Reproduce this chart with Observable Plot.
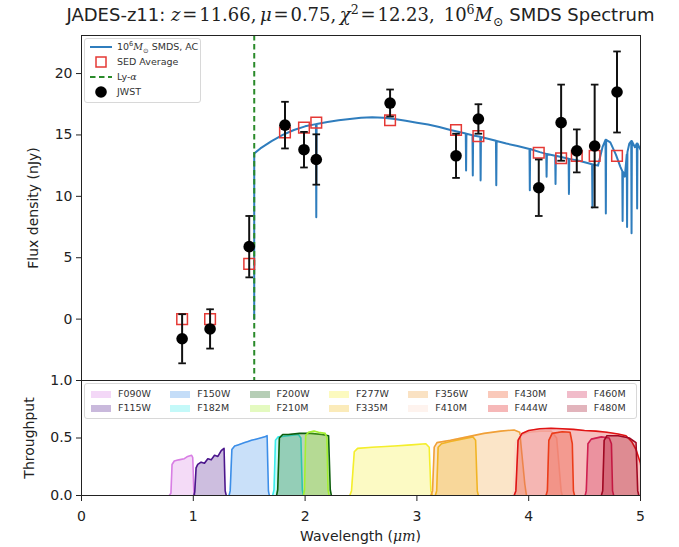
<!DOCTYPE html>
<html><head><meta charset="utf-8">
<script src="https://cdn.jsdelivr.net/npm/d3@7"></script>
<script src="https://cdn.jsdelivr.net/npm/@observablehq/plot@0.6"></script>
<style>
body{margin:0;background:#fff;}
#wrap{position:relative;width:679px;height:547px;font-family:"DejaVu Sans",sans-serif;color:#222;overflow:hidden;}
#topP,#botP{position:absolute;left:0;}
#topP{top:0}
#botP{top:379px}
svg{background:transparent !important;}
.title{position:absolute;top:5px;left:0;width:721px;text-align:center;font-size:18px;white-space:nowrap;line-height:20px;}
.m{font-family:"DejaVu Serif","Liberation Serif",serif;}
.title sup,.leg1 sup{font-size:0.7em;line-height:0;}
.title sub,.leg1 sub{font-size:0.7em;line-height:0;}
.xlab{position:absolute;top:528px;left:0;width:721px;text-align:center;font-size:14px;}
.leg1{position:absolute;left:84px;top:38px;width:115px;height:63px;border:1px solid #d8d8d8;border-radius:3px;background:rgba(255,255,255,0.85);font-size:9.5px;color:#333;}
.leg1 .row{position:absolute;left:0;height:14px;line-height:14px;}
.leg1 .row span{position:absolute;left:32px;white-space:nowrap;}
.leg1 svg{position:absolute;left:5px;top:0;}
.leg2{position:absolute;left:84px;top:383px;width:551px;height:34px;border:1px solid #d8d8d8;border-radius:3px;background:rgba(255,255,255,0.85);font-size:9.5px;color:#333;}
.leg2 .it{position:absolute;height:12px;line-height:12px;white-space:nowrap;}
.leg2 .sw{position:absolute;left:0;top:2.5px;width:20px;height:7px;}
.leg2 .tx{position:absolute;left:27px;top:0;}
</style></head>
<body>
<div id="wrap">
  <div id="topP"></div>
  <div id="botP"></div>
  <div class="title">JADES-z11: <span class="m"><i>z</i>&#8202;=&#8202;11.66,&#8201;<i>μ</i>&#8202;=&#8202;0.75,&#8201;<i>χ</i><sup>2</sup>&#8202;=&#8202;12.23,&#8194;10<sup>6</sup><i>M</i><sub>⊙</sub></span> SMDS Spectrum</div>
  <div class="xlab">Wavelength (<i class="m">μm</i>)</div>
  <div class="leg1" id="leg1"></div>
  <div class="leg2" id="leg2"></div>
</div>
<script>
// ---------- data ----------
const filterNames = ["F090W","F115W","F150W","F182M","F200W","F210M","F277W","F335M","F356W","F410M","F430M","F444W","F460M","F480M"];
const jwstWave = [0.90, 1.15, 1.50, 1.82, 1.99, 2.10, 2.76, 3.35, 3.55, 4.09, 4.29, 4.43, 4.59, 4.79];
const jwstFlux = [-1.6, -0.8, 5.9, 15.8, 13.8, 13.0, 17.6, 13.3, 16.3, 10.7, 16.0, 13.7, 14.1, 18.5];
const jwstErr  = [2.0, 1.6, 2.5, 1.9, 1.45, 2.05, 1.1, 1.8, 1.2, 2.3, 3.1, 1.75, 5.0, 3.3];
const sedFlux  = [0.0, 0.0, 4.5, 15.2, 15.6, 16.0, 16.2, 15.4, 14.9, 13.55, 13.1, 13.3, 13.3, 13.3];
const lyaWave = 1.545;

const modelWave = [1.5449,1.545,1.60,1.70,1.80,1.90,2.00,2.097,2.10,2.103,2.20,2.30,2.40,2.50,2.60,2.70,2.80,2.90,3.00,3.10,3.20,3.30,
  3.437,3.44,3.443,3.497,3.50,3.503,3.567,3.57,3.573,3.707,3.71,3.713,3.80,3.90,4.007,4.01,4.013,4.10,4.157,4.16,4.163,
  4.237,4.24,4.243,4.357,4.36,4.363,4.45,4.567,4.57,4.573,4.62,4.66,4.687,4.69,4.693,4.73,4.78,4.82,4.837,4.84,4.843,4.86,
  4.877,4.88,4.883,4.90,4.917,4.92,4.923,4.95,4.967,4.97,4.973,5.00];
const modelFlux = [0,13.5,13.9,14.5,15.0,15.4,15.7,15.88,8.3,15.9,16.05,16.2,16.3,16.4,16.45,16.4,16.3,16.15,16.0,15.85,15.65,15.4,
  15.12,12.1,15.1,14.98,11.7,14.96,14.85,11.3,14.84,14.52,10.9,14.5,14.3,14.1,13.86,10.5,13.85,13.6,13.46,11.6,13.45,
  13.31,11.0,13.3,13.06,10.2,13.05,12.9,12.61,9.1,12.6,12.5,14.0,14.6,8.6,14.6,14.4,13.4,12.4,12.05,8.0,12.0,11.6,
  13.4,7.5,13.6,14.3,14.5,7.0,14.5,14.0,14.3,9.0,14.3,13.8];

// filter throughput curves [wavelength, throughput]
const tF090W = [[0.785,0],[0.80,0.02],[0.81,0.27],[0.83,0.30],[0.87,0.31],[0.92,0.32],[0.95,0.34],[0.985,0.35],[0.995,0.33],[1.005,0.03],[1.015,0]];
const tF115W = [[1.005,0],[1.013,0.03],[1.025,0.24],[1.04,0.27],[1.07,0.29],[1.10,0.28],[1.13,0.32],[1.16,0.31],[1.19,0.35],[1.22,0.34],[1.25,0.39],[1.275,0.41],[1.285,0.04],[1.295,0]];
const tF150W = [[1.32,0],[1.33,0.04],[1.345,0.40],[1.37,0.43],[1.40,0.44],[1.43,0.45],[1.46,0.46],[1.49,0.47],[1.52,0.48],[1.56,0.49],[1.60,0.50],[1.64,0.51],[1.66,0.52],[1.672,0.04],[1.68,0]];
const tF182M = [[1.71,0],[1.722,0.05],[1.735,0.48],[1.76,0.51],[1.85,0.52],[1.94,0.53],[1.962,0.50],[1.975,0.05],[1.985,0]];
const tF200W = [[1.745,0],[1.755,0.05],[1.77,0.50],[1.80,0.53],[1.85,0.53],[1.95,0.54],[2.05,0.54],[2.15,0.53],[2.21,0.52],[2.225,0.05],[2.235,0]];
const tF210M = [[1.985,0],[1.995,0.05],[2.005,0.52],[2.03,0.55],[2.08,0.56],[2.12,0.55],[2.18,0.54],[2.195,0.50],[2.205,0.05],[2.215,0]];
const tF277W = [[2.40,0],[2.415,0.04],[2.44,0.38],[2.47,0.41],[2.60,0.42],[2.80,0.43],[2.95,0.44],[3.08,0.45],[3.11,0.42],[3.125,0.04],[3.14,0]];
const tF335M = [[3.165,0],[3.177,0.04],[3.19,0.42],[3.22,0.45],[3.30,0.47],[3.40,0.49],[3.50,0.51],[3.525,0.48],[3.54,0.04],[3.55,0]];
const tF356W = [[3.125,0],[3.14,0.04],[3.155,0.42],[3.18,0.46],[3.30,0.48],[3.45,0.51],[3.60,0.54],[3.75,0.56],[3.87,0.57],[3.92,0.55],[3.965,0.10],[3.98,0]];
const tF410M = [[3.855,0],[3.866,0.04],[3.88,0.45],[3.92,0.52],[4.00,0.55],[4.10,0.56],[4.20,0.56],[4.25,0.50],[4.29,0.04],[4.30,0]];
const tF430M = [[4.155,0],[4.167,0.04],[4.18,0.48],[4.21,0.54],[4.30,0.555],[4.37,0.55],[4.39,0.45],[4.40,0.04],[4.41,0]];
const tF444W = [[3.87,0],[3.885,0.04],[3.905,0.48],[3.94,0.54],[4.00,0.565],[4.10,0.58],[4.20,0.585],[4.30,0.58],[4.40,0.575],[4.50,0.565],[4.60,0.56],[4.70,0.55],[4.80,0.535],[4.87,0.52],[4.92,0.47],[4.96,0.40],[5.00,0.28],[5.03,0.04],[5.05,0]];
const tF460M = [[4.505,0],[4.515,0.04],[4.53,0.45],[4.56,0.49],[4.65,0.51],[4.72,0.50],[4.74,0.45],[4.75,0.04],[4.76,0]];
const tF480M = [[4.65,0],[4.662,0.04],[4.675,0.48],[4.70,0.52],[4.80,0.52],[4.90,0.50],[4.96,0.46],[4.975,0.04],[4.985,0]];
const filterCurves = [tF090W,tF115W,tF150W,tF182M,tF200W,tF210M,tF277W,tF335M,tF356W,tF410M,tF430M,tF444W,tF460M,tF480M];

// ---------- styles ----------
const filterColors = ["#d87ee4","#4b168c","#3c8ee8","#3cecec","#0c5e0c","#a4f030","#f4ee2c","#f2bc1c","#f0a038","#fcd8c8","#f04c1c","#e01414","#d02050","#a00822"];
const blue = "#2f7dbd", red = "#e53935", green = "#2a8a2a";

const jw = jwstWave.map((x,i)=>({x, y: jwstFlux[i], e: jwstErr[i]}));
const sed = jwstWave.map((x,i)=>({x, y: sedFlux[i]}));
const model = modelWave.map((x,i)=>({x, y: modelFlux[i]}));
const cap = {draw(ctx){ ctx.moveTo(-3.8,0); ctx.lineTo(3.8,0); }};

const common = {fontFamily:"DejaVu Sans", fontSize:"14px", color:"#222", background:"transparent", overflow:"visible"};

const topPlot = Plot.plot({
  width: 679, height: 381,
  marginLeft: 81, marginRight: 39, marginTop: 35, marginBottom: 1,
  style: common,
  x: {domain:[0,5], axis: null},
  y: {domain:[-5,23.1]},
  marks: [
    Plot.line(model, {x:"x", y:"y", stroke: blue, strokeWidth: 2, clip: true}),
    Plot.ruleX([lyaWave], {stroke: green, strokeWidth: 2, strokeDasharray: "5.5,3.5"}),
    Plot.dot(sed, {x:"x", y:"y", symbol:"square", r:6, stroke: red, strokeWidth:1.5, fill:"none"}),
    Plot.ruleX(jw, {x:"x", y1: d=>d.y-d.e, y2: d=>d.y+d.e, stroke:"#111", strokeWidth:2}),
    Plot.dot(jw, {x:"x", y: d=>d.y-d.e, symbol: cap, stroke:"#111", strokeWidth:1.8}),
    Plot.dot(jw, {x:"x", y: d=>d.y+d.e, symbol: cap, stroke:"#111", strokeWidth:1.8}),
    Plot.dot(jw, {x:"x", y:"y", r:5.8, fill:"#000"}),
    Plot.axisY({ticks:[0,5,10,15,20], tickSize:5, tickPadding:4, label:"Flux density (nJy)", labelAnchor:"center", labelArrow:"none", labelOffset:53}),
    Plot.frame({stroke:"#222"})
  ]
});
document.getElementById("topP").appendChild(topPlot);

const bmarks = [];
filterCurves.forEach((c,i)=>{
  bmarks.push(Plot.areaY(c, {x: d=>d[0], y: d=>d[1], fill: filterColors[i], fillOpacity: 0.28, clip: true}));
  bmarks.push(Plot.line(c, {x: d=>d[0], y: d=>d[1], stroke: filterColors[i], strokeWidth: 1.6, clip: true}));
});
const botPlot = Plot.plot({
  width: 679, height: 168,
  marginLeft: 81, marginRight: 39, marginTop: 1, marginBottom: 52,
  style: common,
  x: {domain:[0,5]},
  y: {domain:[0,1]},
  marks: [
    ...bmarks,
    Plot.axisX({ticks:[0,1,2,3,4,5], tickFormat: d3.format("d"), tickSize:6, tickPadding:10, label:null}),
    Plot.axisY({ticks:[0,0.5,1], tickFormat: d3.format(".1f"), tickSize:5, tickPadding:4, label:"Throughput", labelAnchor:"center", labelArrow:"none", labelOffset:57}),
    Plot.frame({stroke:"#222"})
  ]
});
document.getElementById("botP").appendChild(botPlot);

// ---------- legends ----------
const leg1 = document.getElementById("leg1");
const l1 = [
  {html:'10<sup>6</sup><i class="m">M</i><sub>⊙</sub> SMDS, AC', icon:`<line x1="0" y1="7" x2="22" y2="7" stroke="${blue}" stroke-width="2"/>`},
  {html:'SED Average', icon:`<rect x="6" y="2" width="10" height="10" fill="none" stroke="${red}" stroke-width="1.5"/>`},
  {html:'Ly-<i class="m">α</i>', icon:`<line x1="0" y1="7" x2="22" y2="7" stroke="${green}" stroke-width="2" stroke-dasharray="5.5,3.5"/>`},
  {html:'JWST', icon:`<circle cx="11" cy="7" r="5.8" fill="#000"/>`}
];
l1.forEach((d,i)=>{
  const r = document.createElement("div");
  r.className = "row";
  r.style.top = (1 + i*15) + "px";
  r.style.width = "115px";
  r.innerHTML = `<svg width="24" height="14">${d.icon}</svg><span>${d.html}</span>`;
  leg1.appendChild(r);
});
const leg2 = document.getElementById("leg2");
filterNames.forEach((n,i)=>{
  const col = Math.floor(i/2), row = i%2;
  const it = document.createElement("div");
  it.className = "it";
  it.style.left = (6 + col*79.3) + "px";
  it.style.top = (4 + row*14) + "px";
  it.innerHTML = `<div class="sw" style="background:${filterColors[i]};opacity:0.3"></div><div class="tx">${n}</div>`;
  leg2.appendChild(it);
});
</script>
</body></html>
